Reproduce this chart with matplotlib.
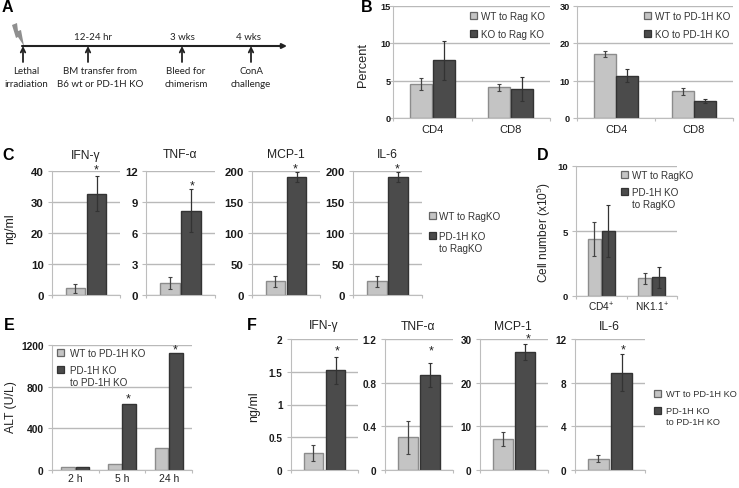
import matplotlib
matplotlib.use("Agg")
import matplotlib.pyplot as plt
from matplotlib.patches import Rectangle, Polygon

plt.rcParams['font.family'] = ['Liberation Sans', 'DejaVu Sans']
plt.rcParams['mathtext.default'] = 'regular'

W, H = 739, 489
LIGHT = '#c4c4c4'
DARK = '#4b4b4b'

# panel B
b_groups = ['CD4', 'CD8']
b1_wt = [4.55, 4.1]
b1_wt_err = [0.8, 0.45]
b1_ko = [7.7, 3.9]
b1_ko_err = [2.6, 1.6]
b2_wt = [17, 7.1]
b2_wt_err = [0.8, 1.0]
b2_ko = [11.3, 4.6]
b2_ko_err = [1.7, 0.6]

# panel C
c_names = ['IFN-γ', 'TNF-α', 'MCP-1', 'IL-6']
c_wt = [2.2, 1.15, 22, 22]
c_wt_err = [1.5, 0.6, 9, 9]
c_ko = [32.7, 8.15, 190, 190]
c_ko_err = [5.6, 2.1, 8, 8]
c_ticks = [[0, 10, 20, 30, 40], [0, 3, 6, 9, 12], [0, 50, 100, 150, 200], [0, 50, 100, 150, 200]]

# panel D
d_groups = ['CD4$^{+}$', 'NK1.1$^{+}$']
d_wt = [4.4, 1.35]
d_wt_err = [1.3, 0.4]
d_ko = [5.0, 1.45]
d_ko_err = [2.0, 0.8]

# panel E
e_groups = ['2 h', '5 h', '24 h']
e_wt = [30, 60, 210]
e_ko = [30, 630, 1125]

# panel F
f_wt = [0.26, 0.3, 7.1, 1.05]
f_wt_err = [0.12, 0.15, 1.6, 0.3]
f_ko = [1.52, 0.87, 27, 8.9]
f_ko_err = [0.21, 0.11, 1.9, 1.7]
f_ticks = [[0, 0.5, 1, 1.5, 2], [0, 0.4, 0.8, 1.2], [0, 10, 20, 30], [0, 4, 8, 12]]
f_ticklabels = [['0', '0.5', '1', '1.5', '2'], ['0', '0.4', '0.8', '1.2'], ['0', '10', '20', '30'], ['0', '4', '8', '12']]

# panel A
a_labels = ['Lethal\nirradiation', 'BM transfer from\nB6 wt or PD-1H KO', 'Bleed for\nchimerism', 'ConA\nchallenge']
a_times = ['', '12-24 hr', '3 wks', '4 wks']
a_x = [23, 88, 182, 251]
a_textx = [26, 100, 186, 251]
a_timex = [0, 93, 182, 249]

fig = plt.figure(figsize=(W / 100, H / 100), dpi=100)

# overlay in pixel coordinates for labels, legends and the timeline
ov = fig.add_axes([0, 0, 1, 1], zorder=5)
ov.set_xlim(0, W)
ov.set_ylim(H, 0)
ov.axis('off')


def make_axes(x0, x1, ytop, ybot):
    ax = fig.add_axes([x0 / W, 1 - ybot / H, (x1 - x0) / W, (ybot - ytop) / H])
    for s in ['top', 'right']:
        ax.spines[s].set_visible(False)
    ax.spines['left'].set_color('#bdbdbd')
    ax.spines['bottom'].set_color('#bdbdbd')
    ax.yaxis.grid(True, color='#b9b9b9', lw=1)
    ax.set_axisbelow(True)
    return ax


def bars(ax, wt, ko, wt_err, ko_err, width, gap, ymax, ticks, size, ticklabels=None, names=None, namesize=8, pad=4, ypad=3):
    n = len(wt)
    for i in range(n):
        c = i + 0.5
        ax.bar(c - width / 2 - gap / 2, wt[i], width, color=LIGHT, edgecolor='#8c8c8c', lw=1)
        ax.bar(c + width / 2 + gap / 2, ko[i], width, color=DARK, edgecolor='#333333', lw=1)
        if wt_err is not None:
            ax.errorbar(c - width / 2 - gap / 2, wt[i], yerr=wt_err[i], color='#444444', lw=0.9, capsize=1.5, capthick=0.8)
            ax.errorbar(c + width / 2 + gap / 2, ko[i], yerr=ko_err[i], color='#333333', lw=0.9, capsize=1.5, capthick=0.8)
    ax.set_xlim(0, n)
    ax.set_ylim(0, ymax)
    ax.set_yticks(ticks)
    if ticklabels is not None:
        ax.set_yticklabels(ticklabels)
    ax.tick_params(axis='y', length=3, color='#bdbdbd', labelsize=size, pad=ypad, labelcolor='#1a1a1a')
    for t in ax.get_yticklabels():
        t.set_fontweight('bold')
    ax.set_xticks(range(n + 1))
    ax.set_xticklabels([])
    ax.tick_params(axis='x', length=2, color='#bdbdbd')
    if names is not None:
        ax.set_xticks([i + 0.5 for i in range(n)], minor=True)
        ax.set_xticklabels(names, minor=True)
        ax.tick_params(axis='x', which='minor', length=0, labelsize=namesize, pad=pad, labelcolor='#222222')


def legend(x, y, label, color, edge, off=11, size=7.1):
    ov.add_patch(Rectangle((x, y - 3.5), 7, 7, facecolor=color, edgecolor=edge, lw=0.9))
    ov.text(x + off, y - 4, label, fontsize=size, va='top', color='#333333', linespacing=1.3)


def panel(x, y, s):
    ov.text(x, y, s, fontsize=11.5, fontweight='bold', ha='left', va='center', color='black')


def star(x, y):
    ov.text(x, y, '*', fontsize=9, ha='center', va='center', color='#222222')


# A
panel(2, 8, 'A')
ov.annotate('', xy=(287, 47), xytext=(22, 47), arrowprops=dict(arrowstyle='-|>', color='#222222', lw=1.5, mutation_scale=7, shrinkA=0, shrinkB=0))
for x in a_x:
    ov.annotate('', xy=(x, 47), xytext=(x, 63), arrowprops=dict(arrowstyle='->', color='#222222', lw=1.3, mutation_scale=8, shrinkA=0, shrinkB=0))
for x, lab in zip(a_textx, a_labels):
    ov.text(x, 78, lab, fontsize=7, family='Lato', ha='center', va='center', color='#222222', linespacing=1.45)
for x, t in zip(a_timex, a_times):
    ov.text(x, 38, t, fontsize=7, family='Lato', ha='center', va='center', color='#222222')
ov.add_patch(Polygon([(12, 26), (17, 24), (18, 32), (21, 31), (24, 47), (18, 38), (16, 39)], facecolor='#8f8f8f', edgecolor='none'))

# B
panel(361, 7, 'B')
ax = make_axes(393, 550, 6.5, 119)
bars(ax, b1_wt, b1_ko, b1_wt_err, b1_ko_err, 0.28, 0.01, 15, [0, 5, 10, 15], 6.6, names=b_groups, ypad=-1.5)
ax = make_axes(577, 733, 6.5, 119)
bars(ax, b2_wt, b2_ko, b2_wt_err, b2_ko_err, 0.28, 0.01, 30, [0, 10, 20, 30], 6.6, names=b_groups, ypad=2)
ov.text(363, 65, 'Percent', fontsize=9.2, rotation=90, ha='center', va='center', color='#222222')
legend(470, 16, 'WT to Rag KO', LIGHT, '#666666')
legend(470, 34, 'KO to Rag KO', DARK, '#333333')
legend(644, 16, 'WT to PD-1H KO', LIGHT, '#666666')
legend(644, 34, 'KO to PD-1H KO', DARK, '#333333')

# C
panel(2, 155, 'C')
c_x = [(52, 120), (146, 215), (252, 320), (353, 422)]
c_starx = [96, 192, 295, 397]
c_stary = [170, 186.5, 169.5, 169.5]
for i, (x0, x1) in enumerate(c_x):
    ax = make_axes(x0, x1, 172, 296)
    bars(ax, [c_wt[i]], [c_ko[i]], [c_wt_err[i]], [c_ko_err[i]], 0.29, 0.02, c_ticks[i][-1], c_ticks[i], 8.2)
    ov.text((x0 + x1) / 2 - 0.5, 155.5, c_names[i], fontsize=8.7, ha='center', va='center', color='#222222')
    star(c_starx[i], c_stary[i])
ov.text(10, 229, 'ng/ml', fontsize=9, rotation=90, ha='center', va='center', color='#222222')
legend(429, 216, 'WT to RagKO', LIGHT, '#666666', off=10)
legend(429, 236, 'PD-1H KO\nto RagKO', DARK, '#333333', off=10)

# D
panel(537, 155, 'D')
ax = make_axes(576, 677, 167, 297)
bars(ax, d_wt, d_ko, d_wt_err, d_ko_err, 0.26, 0.01, 10, [0, 5, 10], 6.8, names=d_groups, namesize=7.3, pad=3)
ov.text(544, 233, 'Cell number (x10$^{5}$)', fontsize=8.6, rotation=90, ha='center', va='center', color='#222222')
legend(621, 175, 'WT to RagKO', LIGHT, '#666666', off=10.5)
legend(621, 192, 'PD-1H KO\nto RagKO', DARK, '#333333', off=10.5)

# E
panel(4, 326, 'E')
ax = make_axes(52, 192, 346, 471)
bars(ax, e_wt, e_ko, None, None, 0.29, 0.02, 1200, [0, 400, 800, 1200], 7.4, ticklabels=['0', '400', '800', '1200'], names=e_groups, namesize=7.5, pad=2)
ov.text(11, 407, 'ALT (U/L)', fontsize=8.8, rotation=90, ha='center', va='center', color='#222222')
legend(57, 353, 'WT to PD-1H KO', LIGHT, '#666666', off=13)
legend(57, 370, 'PD-1H KO\nto PD-1H KO', DARK, '#333333', off=13)
star(128, 399.5)
star(175, 350.5)

# F
panel(247, 326, 'F')
f_x = [(291, 358), (385, 453), (480, 548), (575, 645)]
f_starx = [337, 431, 528, 623]
f_stary = [351.5, 351.5, 339.5, 350.5]
for i, (x0, x1) in enumerate(f_x):
    ax = make_axes(x0, x1, 340, 471)
    bars(ax, [f_wt[i]], [f_ko[i]], [f_wt_err[i]], [f_ko_err[i]], 0.29, 0.04, f_ticks[i][-1], f_ticks[i], 7.2, ticklabels=f_ticklabels[i])
    ov.text((x0 + x1) / 2 - 1, 326.5, c_names[i], fontsize=8.7, ha='center', va='center', color='#222222')
    star(f_starx[i], f_stary[i])
ov.text(254, 407, 'ng/ml', fontsize=9, rotation=90, ha='center', va='center', color='#222222')
legend(654, 394, 'WT to PD-1H KO', LIGHT, '#666666', off=12.5, size=6.7)
legend(654, 411, 'PD-1H KO\nto PD-1H KO', DARK, '#333333', off=12.5, size=6.7)

plt.savefig('out.png', dpi=100)
